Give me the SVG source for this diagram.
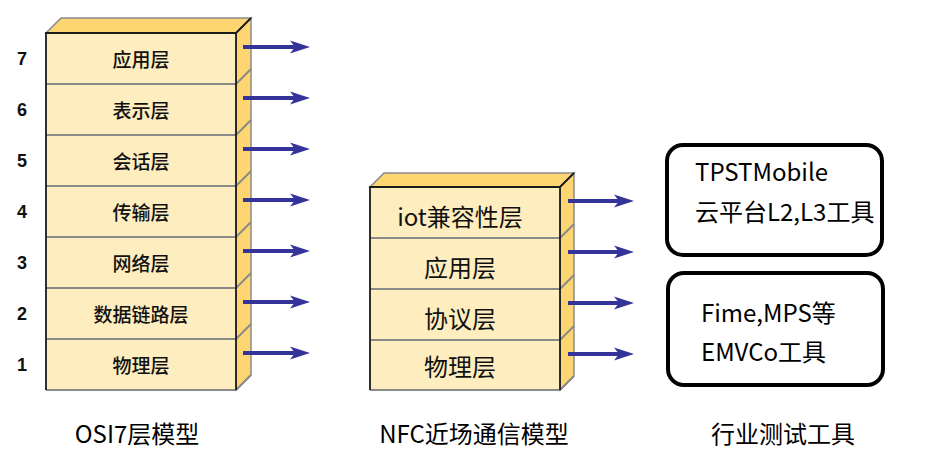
<svg xmlns="http://www.w3.org/2000/svg" width="938" height="475" viewBox="0 0 938 475">
<defs>
<style>
.front{fill:#FEEDBE;stroke:none}
.side{fill:#FDD671;stroke:#8a8a8a;stroke-width:1.5}
.edge{fill:none;stroke:#1a1a1a;stroke-width:1.8}
.sep{fill:none;stroke:#8a8a8a;stroke-width:2}
.arr{stroke:#333399;stroke-width:4;fill:none;marker-end:url(#ah)}
.num{font-family:"Liberation Sans",Arial,sans-serif;font-weight:bold;font-size:18px;fill:#111;text-anchor:middle;dominant-baseline:central}
.osi{font-family:"Noto Sans CJK SC","Noto Sans",sans-serif;font-size:19px;font-weight:500;fill:#111;text-anchor:middle;dominant-baseline:central}
.nfc{font-family:"Noto Sans CJK SC","Noto Sans",sans-serif;font-size:24px;fill:#111;text-anchor:middle;dominant-baseline:central}
.tool{font-family:"Noto Sans CJK SC","Noto Sans",sans-serif;font-size:24px;fill:#000}
.cap{font-family:"Noto Sans CJK SC","Noto Sans",sans-serif;font-size:24px;fill:#000;text-anchor:middle;dominant-baseline:central}
.box{fill:#fff;stroke:#000;stroke-width:4}
</style>
<marker id="ah" markerUnits="userSpaceOnUse" markerWidth="22" markerHeight="14" refX="10" refY="7" orient="auto">
<path d="M0,0.5 L20,7 L0,13.5 L5,7 Z" fill="#333399"/>
</marker>
</defs>

<g id="osi-stack">
<polygon class="side" points="46,33 61,18 251,18 236,33"/>
<polygon class="side" points="236,33 251,18 251,375 236,390"/>
<rect class="front" x="46" y="33" width="190" height="357"/>
<path class="sep" d="M46,84 H236 L251,69 M46,135 H236 L251,120 M46,186 H236 L251,171 M46,237 H236 L251,222 M46,288 H236 L251,273 M46,339 H236 L251,324 M46,390 H236 L251,375"/>
<path class="edge" d="M46,390 V33 H236 V390 M236,33 L251,18"/>
</g>
<g id="osi-labels">
<text class="num" x="22" y="59">7</text>
<text class="num" x="22" y="110">6</text>
<text class="num" x="22" y="161">5</text>
<text class="num" x="22" y="212">4</text>
<text class="num" x="22" y="263">3</text>
<text class="num" x="22" y="314">2</text>
<text class="num" x="22" y="365">1</text>
<text class="osi" x="141" y="58">应用层</text>
<text class="osi" x="141" y="109">表示层</text>
<text class="osi" x="141" y="160">会话层</text>
<text class="osi" x="141" y="211">传输层</text>
<text class="osi" x="141" y="262">网络层</text>
<text class="osi" x="141" y="313">数据链路层</text>
<text class="osi" x="141" y="364">物理层</text>
</g>

<g id="nfc-stack">
<polygon class="side" points="370,187 384,173 574,173 560,187"/>
<polygon class="side" points="560,187 574,173 574,376 560,390"/>
<rect class="front" x="370" y="187" width="190" height="203"/>
<path class="sep" d="M370,238 H560 L574,224 M370,289 H560 L574,275 M370,340 H560 L574,326 M370,390 H560 L574,376"/>
<path class="edge" d="M370,390 V187 H560 V390 M560,187 L574,173"/>
<text class="nfc" x="460" y="215">iot兼容性层</text>
<text class="nfc" x="460" y="266">应用层</text>
<text class="nfc" x="460" y="317">协议层</text>
<text class="nfc" x="460" y="365">物理层</text>
</g>

<g id="tool-box-1">
<rect class="box" x="667" y="145" width="215" height="110" rx="16"/>
<text class="tool" x="695" y="181">TPSTMobile</text>
<text class="tool" x="695" y="221">云平台L2,L3工具</text>
</g>
<g id="tool-box-2">
<rect class="box" x="668" y="273" width="215" height="112" rx="16"/>
<text class="tool" x="701" y="322">Fime,MPS等</text>
<text class="tool" x="701" y="361">EMVCo工具</text>
</g>

<g id="connectors">
<line class="arr" x1="243" y1="47" x2="300" y2="47"/>
<line class="arr" x1="243" y1="98" x2="300" y2="98"/>
<line class="arr" x1="243" y1="149" x2="300" y2="149"/>
<line class="arr" x1="243" y1="200" x2="300" y2="200"/>
<line class="arr" x1="243" y1="251" x2="300" y2="251"/>
<line class="arr" x1="243" y1="302" x2="300" y2="302"/>
<line class="arr" x1="243" y1="353" x2="300" y2="353"/>
<line class="arr" x1="568" y1="201" x2="624" y2="201"/>
<line class="arr" x1="568" y1="252" x2="624" y2="252"/>
<line class="arr" x1="568" y1="303" x2="624" y2="303"/>
<line class="arr" x1="568" y1="354" x2="624" y2="354"/>
</g>

<g id="captions">
<text class="cap" x="137" y="432">OSI7层模型</text>
<text class="cap" x="474" y="432">NFC近场通信模型</text>
<text class="cap" x="783" y="432">行业测试工具</text>
</g>
</svg>
